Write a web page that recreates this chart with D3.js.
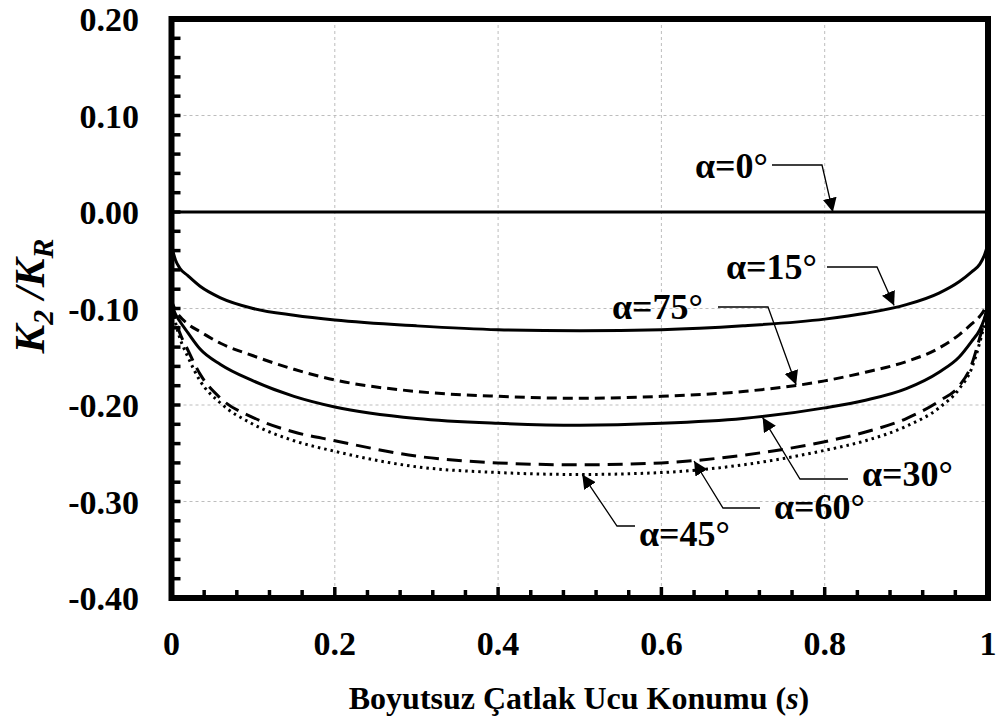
<!DOCTYPE html>
<html lang="en">
<head>
    <meta charset="UTF-8">
    <script src="https://cdnjs.cloudflare.com/ajax/libs/d3/7.8.5/d3.min.js"></script>
    <title>K2/KR</title>
    <style>
        body { margin: 0; background: #fff; }
        text { font-family: "Liberation Serif", "Times New Roman", serif; font-weight: bold; }
    </style>
</head>
<body>
<script>
    // crack tip position s
    let sVals = [0, 0.005, 0.01, 0.02, 0.035, 0.06, 0.1, 0.15, 0.2, 0.3, 0.4, 0.5,
        0.6, 0.7, 0.8, 0.85, 0.9, 0.94, 0.965, 0.98, 0.99, 0.995, 1]

    let k0 = [0, 0, 0, 0, 0, 0, 0, 0, 0, 0, 0, 0, 0, 0, 0, 0, 0, 0, 0, 0, 0, 0, 0]
    let k15 = [-0.035, -0.050, -0.058, -0.066, -0.077, -0.089, -0.100, -0.107, -0.112, -0.118, -0.122, -0.123,
        -0.122, -0.118, -0.111, -0.105, -0.096, -0.084, -0.072, -0.062, -0.054, -0.046, -0.033]
    let k30 = [-0.095, -0.106, -0.113, -0.125, -0.142, -0.158, -0.175, -0.191, -0.202, -0.214, -0.219, -0.221,
        -0.219, -0.214, -0.203, -0.195, -0.183, -0.166, -0.150, -0.134, -0.122, -0.112, -0.097]
    let k45 = [-0.095, -0.115, -0.130, -0.150, -0.175, -0.198, -0.220, -0.237, -0.248, -0.264, -0.270, -0.272,
        -0.270, -0.262, -0.247, -0.237, -0.222, -0.203, -0.183, -0.162, -0.135, -0.118, -0.095]
    let k60 = [-0.095, -0.112, -0.125, -0.143, -0.168, -0.193, -0.213, -0.228, -0.237, -0.253, -0.260, -0.262,
        -0.260, -0.252, -0.238, -0.228, -0.214, -0.196, -0.180, -0.158, -0.130, -0.115, -0.095]
    let k75 = [-0.092, -0.102, -0.108, -0.116, -0.124, -0.136, -0.149, -0.163, -0.174, -0.186, -0.191, -0.193,
        -0.191, -0.186, -0.175, -0.166, -0.155, -0.141, -0.127, -0.116, -0.108, -0.102, -0.092]

    let xTicks = [0, 0.2, 0.4, 0.6, 0.8, 1]
    let xTickLabels = ["0", "0.2", "0.4", "0.6", "0.8", "1"]
    let yTicks = [0.2, 0.1, 0, -0.1, -0.2, -0.3, -0.4]
    let yTickLabels = ["0.20", "0.10", "0.00", "-0.10", "-0.20", "-0.30", "-0.40"]

    // label, text pos, elbow start/end, arrow tip (data coords for tip)
    let notes = [
        {txt: "α=0°", tx: 695, ty: 178, l1: [772, 165], l2: [822, 165], tip: [0.81, 0]},
        {txt: "α=15°", tx: 726, ty: 279, l1: [827, 267], l2: [877, 267], tip: [0.885, -0.097]},
        {txt: "α=75°", tx: 612, ty: 319, l1: [718, 307], l2: [768, 307], tip: [0.765, -0.179]},
        {txt: "α=30°", tx: 862, ty: 486, l1: [848, 479], l2: [800, 479], tip: [0.724, -0.213]},
        {txt: "α=60°", tx: 774, ty: 519, l1: [760, 508], l2: [723, 508], tip: [0.64, -0.258]},
        {txt: "α=45°", tx: 639, ty: 546, l1: [635, 526], l2: [617, 526], tip: [0.503, -0.272]}
    ]

    const W = 1003, H = 724
    const svg = d3.select("body").append("svg").attr("width", W).attr("height", H)

    const x = d3.scaleLinear().domain([0, 1]).range([171.5, 988])
    const y = d3.scaleLinear().domain([-0.4, 0.2]).range([598, 19])

    // grid
    svg.append("g").selectAll("line").data(yTicks.filter(d => d < 0.2 && d > -0.4)).enter()
        .append("line")
        .attr("x1", x(0)).attr("x2", x(1))
        .attr("y1", d => y(d)).attr("y2", d => y(d))
        .attr("stroke", "#bdbdbd").attr("stroke-width", 1).attr("stroke-dasharray", "3,3")
    svg.append("g").selectAll("line").data(xTicks.filter(d => d > 0 && d < 1)).enter()
        .append("line")
        .attr("x1", d => x(d)).attr("x2", d => x(d))
        .attr("y1", y(0.2)).attr("y2", y(-0.4))
        .attr("stroke", "#bdbdbd").attr("stroke-width", 1).attr("stroke-dasharray", "3,3")

    // curves
    let line = d3.line().x((d, i) => x(sVals[i])).y(d => y(d)).curve(d3.curveMonotoneX)
    let series = [
        {v: k0, dash: null},
        {v: k15, dash: null},
        {v: k75, dash: "10,6"},
        {v: k30, dash: null},
        {v: k60, dash: "15,8"},
        {v: k45, dash: "2.5,4"}
    ]
    series.forEach(s => {
        svg.append("path").datum(s.v)
            .attr("d", line)
            .attr("fill", "none")
            .attr("stroke", "#000")
            .attr("stroke-width", 3)
            .attr("stroke-dasharray", s.dash)
    })

    // minor ticks
    let yMinor = d3.range(-0.4, 0.2001, 0.02)
    svg.append("g").selectAll("line").data(yMinor).enter()
        .append("line")
        .attr("x1", x(0)).attr("x2", x(0) + 9)
        .attr("y1", d => y(d)).attr("y2", d => y(d))
        .attr("stroke", "#000").attr("stroke-width", 3.5)
    let xMinor = d3.range(0, 1.0001, 0.04)
    svg.append("g").selectAll("line").data(xMinor).enter()
        .append("line")
        .attr("x1", d => x(d)).attr("x2", d => x(d))
        .attr("y1", y(-0.4)).attr("y2", d => Math.abs(d * 5 - Math.round(d * 5)) < 1e-6 ? y(-0.4) - 11 : y(-0.4) - 8)
        .attr("stroke", "#000").attr("stroke-width", 3.5)

    // frame
    svg.append("rect")
        .attr("x", x(0)).attr("y", y(0.2))
        .attr("width", x(1) - x(0)).attr("height", y(-0.4) - y(0.2))
        .attr("fill", "none").attr("stroke", "#000").attr("stroke-width", 6)

    // tick labels
    svg.append("g").selectAll("text").data(yTicks).enter()
        .append("text")
        .attr("x", 139).attr("y", d => y(d)).attr("dy", "0.36em")
        .attr("text-anchor", "end").attr("font-size", 34)
        .text((d, i) => yTickLabels[i])
    svg.append("g").selectAll("text").data(xTicks).enter()
        .append("text")
        .attr("x", d => x(d)).attr("y", 655)
        .attr("text-anchor", "middle").attr("font-size", 34)
        .text((d, i) => xTickLabels[i])

    // axis titles
    let xt = svg.append("text").attr("x", 579).attr("y", 709)
        .attr("text-anchor", "middle").attr("font-size", 32)
    xt.append("tspan").text("Boyutsuz Çatlak Ucu Konumu (")
    xt.append("tspan").attr("font-style", "italic").text("s")
    xt.append("tspan").text(")")

    let yt = svg.append("text").attr("transform", "translate(44,296) rotate(-90)")
        .attr("text-anchor", "middle").attr("font-size", 43).attr("font-style", "italic")
    yt.append("tspan").text("K")
    yt.append("tspan").attr("font-size", 30).attr("dy", 9).text("2")
    yt.append("tspan").attr("dy", -9).text(" /K")
    yt.append("tspan").attr("font-size", 30).attr("dy", 9).text("R")

    // annotations
    svg.append("defs").append("marker")
        .attr("id", "arr").attr("viewBox", "0 0 10 10")
        .attr("refX", 10).attr("refY", 5)
        .attr("markerWidth", 14).attr("markerHeight", 14)
        .attr("markerUnits", "userSpaceOnUse")
        .attr("orient", "auto")
        .append("path").attr("d", "M0,0 L10,5 L0,10 z").attr("fill", "#000")

    notes.forEach(n => {
        svg.append("text").attr("x", n.tx).attr("y", n.ty)
            .attr("font-size", 36).text(n.txt)
        svg.append("polyline")
            .attr("points", [n.l1, n.l2, [x(n.tip[0]), y(n.tip[1])]].map(p => p.join(",")).join(" "))
            .attr("fill", "none").attr("stroke", "#000").attr("stroke-width", 1.3)
            .attr("marker-end", "url(#arr)")
    })
</script>
</body>
</html>
